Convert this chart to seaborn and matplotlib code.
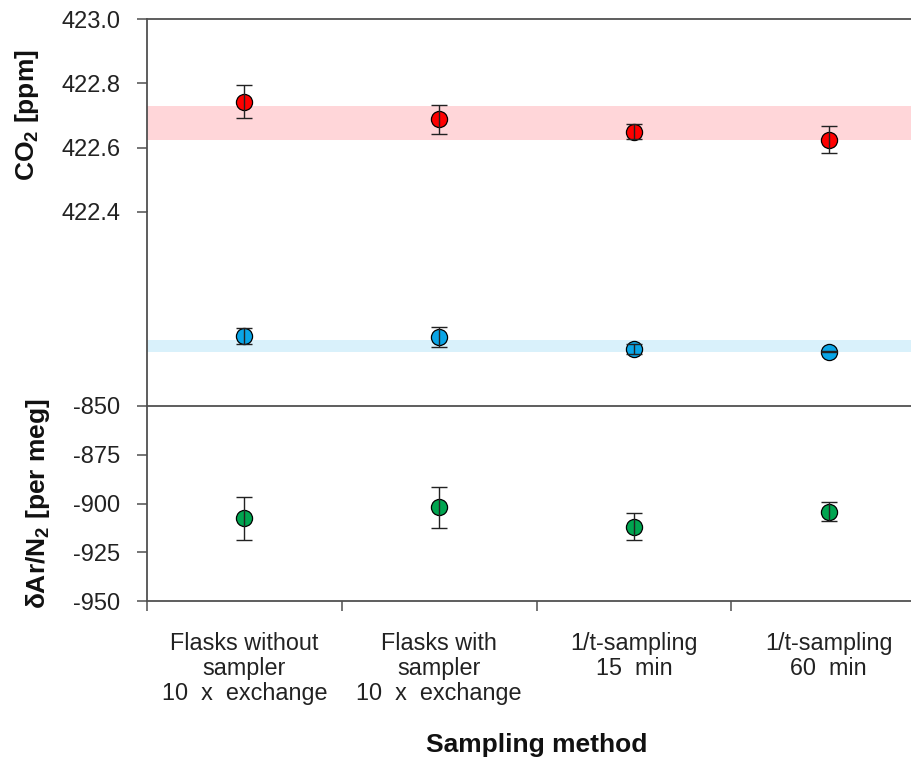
import numpy as np
import seaborn as sns
import matplotlib.pyplot as plt
from matplotlib.ticker import FixedLocator

methods = ["Flasks without\nsampler\n10  x  exchange",
           "Flasks with\nsampler\n10  x  exchange",
           "1/t-sampling\n15  min",
           "1/t-sampling\n60  min"]

# CO2 [ppm]
co2 = [422.743, 422.689, 422.650, 422.624]
co2_err = [0.051, 0.045, 0.023, 0.042]
co2_band = (422.624, 422.730)

# middle series (axis not shown, arbitrary units)
mid = [36.1, 35.7, 29.4, 28.0]
mid_err = [4.1, 5.2, 2.6, 0.4]
mid_band = (28.0, 34.0)

# dAr/N2 [per meg]
ar = [-907.6, -901.9, -911.9, -904.2]
ar_err = [11.1, 10.5, 6.9, 4.9]

sns.set_style("ticks")
plt.rcParams['font.family'] = ['Liberation Sans', 'DejaVu Sans']
plt.rcParams['axes.unicode_minus'] = False
plt.rcParams['mathtext.fontset'] = 'custom'
plt.rcParams['mathtext.rm'] = 'Liberation Sans:bold'
plt.rcParams['mathtext.it'] = 'Liberation Sans:bold'
plt.rcParams['mathtext.bf'] = 'Liberation Sans:bold'

W, H = 911, 761
fig = plt.figure(figsize=(W / 100, H / 100), dpi=100)

def box(top, bottom, left=147, right=926):
    return [left / W, 1 - bottom / H, (right - left) / W, (bottom - top) / H]

ax_top = fig.add_axes(box(19, 212))
ax_mid = fig.add_axes(box(212, 406), sharex=ax_top)
ax_bot = fig.add_axes(box(406, 601), sharex=ax_top)

spine_col = "#505050"
colors = ["#ff0000", "#0aa5e6", "#00a550"]
series = [(ax_top, co2, co2_err), (ax_mid, mid, mid_err), (ax_bot, ar, ar_err)]

for (ax, vals, errs), c in zip(series, colors):
    sns.scatterplot(x=methods, y=vals, ax=ax, color=c, s=135,
                    edgecolor="black", linewidth=0.9, zorder=3, legend=False)
    ax.errorbar(methods, vals, yerr=errs, fmt="none", ecolor="#222222",
                elinewidth=1.0, capsize=6, capthick=1.0, zorder=4)
    for s in ax.spines.values():
        s.set_color(spine_col)
        s.set_linewidth(1.3)
    ax.spines["right"].set_visible(False)
    ax.tick_params(axis="y", direction="out", length=7, width=1.1,
                   color=spine_col, labelsize=17, labelcolor="#222222", pad=12)
    ax.set_xlim(-0.5, 3.5)
    ax.set_ylabel("")
    ax.set_xlabel("")

ax_top.axhspan(*co2_band, color="#ffd6d9", lw=0, zorder=0)
ax_mid.axhspan(*mid_band, color="#d9f1fb", lw=0, zorder=0)

ax_top.set_ylim(422.4, 423.0)
ax_top.set_yticks([422.4, 422.6, 422.8, 423.0])
ax_top.set_yticklabels(["422.4", "422.6", "422.8", "423.0"])
ax_top.spines["bottom"].set_visible(False)
ax_top.tick_params(axis="x", bottom=False, labelbottom=False)

ax_mid.set_ylim(0, 100)
ax_mid.set_yticks([])
ax_mid.spines["top"].set_visible(False)
ax_mid.spines["bottom"].set_visible(False)
ax_mid.tick_params(axis="x", bottom=False, labelbottom=False)

ax_bot.set_ylim(-950, -850)
ax_bot.set_yticks([-950, -925, -900, -875, -850])
ax_bot.xaxis.set_minor_locator(FixedLocator([-0.5, 0.5, 1.5, 2.5, 3.5]))
ax_bot.tick_params(axis="x", which="minor", direction="out", length=7,
                   width=1.1, color=spine_col)
ax_bot.tick_params(axis="x", which="major", length=0, labelsize=16.8,
                   labelcolor="#222222", pad=22)
for lab in ax_bot.get_xticklabels():
    lab.set_linespacing(1.12)

ax_top.set_ylabel("CO$_2$ [ppm]", fontsize=19, fontweight="bold", color="#111111")
ax_top.yaxis.set_label_coords(-0.136, 0.5)
ax_bot.set_ylabel("δAr/N$_2$ [per meg]", fontsize=19, fontweight="bold", color="#111111")
ax_bot.yaxis.set_label_coords(-0.122, 0.5)
ax_bot.set_xlabel("Sampling method", fontsize=19, fontweight="bold",
                  color="#111111", labelpad=20)

plt.savefig("out.png", dpi=100)
plt.close()
